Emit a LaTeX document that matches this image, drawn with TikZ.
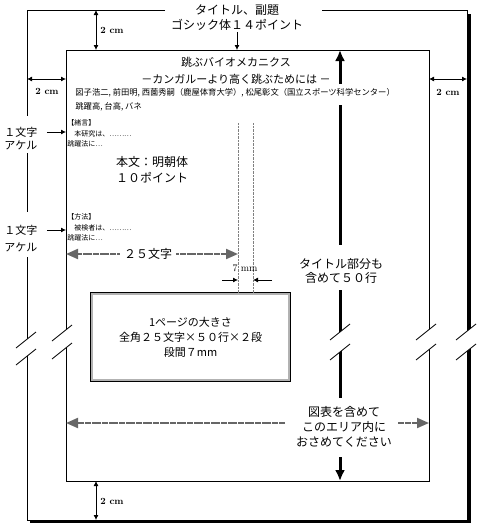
\documentclass[tikz,border=0pt]{standalone}
\usepackage{fontspec}
\newfontfamily\jpfont{Noto Sans CJK JP}
\usetikzlibrary{arrows.meta}
\newcommand\brkmark[3]{%
  \fill[white] (#1-10,#2+8) -- (#1+10,#2-8) -- (#1+10,#3-8) -- (#1-10,#3+8) -- cycle;
  \draw[line width=0.8pt] (#1-10,#2+8) -- (#1+10,#2-8) (#1-10,#3+8) -- (#1+10,#3-8);}

\begin{document}
\begin{tikzpicture}[x=1pt,y=-1pt,line width=0.8pt,
  jbig/.style={font=\jpfont\fontsize{12}{15}\selectfont,align=center,inner sep=1pt},
  jmid/.style={font=\jpfont\fontsize{11}{14}\selectfont,align=center,inner sep=1pt},
  jtiny/.style={font=\jpfont\fontsize{8.3}{10}\selectfont,anchor=west,align=left,inner sep=0pt},
  cmlbl/.style={font=\fontsize{9.5}{10}\selectfont\bfseries,inner sep=1pt},
  dimarr/.style={{Latex[length=5pt,width=5pt]}-{Latex[length=5pt,width=5pt]}},
  ptr/.style={-{Latex[length=5pt,width=5pt]}},
  bigarr/.style={line width=3pt},
  bigtip/.style={-{Latex[length=11pt,width=10pt]}},
  span/.style={line width=2pt,black!60,dash pattern=on 3pt off 0.4pt,
    -{Triangle[length=12pt,width=10pt,fill=black!60,color=black!60]}},
  colline/.style={gray,densely dotted,line width=0.4pt}]
\useasboundingbox (0,0) rectangle (487,530);

% frames
\coordinate (oNW) at (27,10);  \coordinate (oNE) at (467,10);
\coordinate (oSW) at (27,520); \coordinate (oSE) at (467,520);
\coordinate (iNW) at (66,50);  \coordinate (iSE) at (429,481);
\draw[line width=3pt] (469,14) -- (469,521.9) -- (30,521.9);
\draw (165,10) -- (oNW) -- (27,116);
\draw (27,153) -- (27,212);
\draw (27,257) -- (oSW) -- (oSE) -- (oNE) -- (322,10);
\draw (iNW) rectangle (iSE);

% title
\node[jbig] (ttl) at (237,17.5) {タイトル、副題\\ゴシック体１４ポイント};
\draw[ptr] (ttl.south) -- (ttl.south |- iNW);
\node[jmid,font=\jpfont\fontsize{11}{17}\selectfont] (head) at (236,70.5) {跳ぶバイオメカニクス\\－カンガルーより高く跳ぶためには －};
\node[jtiny] (auth) at (75,93) {図子浩二, 前田明, 西薗秀嗣（鹿屋体育大学）, 松尾彰文（国立スポーツ科学センター）};
\node[jtiny] (kw) at (75,107) {跳躍高, 台高, バネ};

% 2 cm margins
\draw[dimarr] (96,10) -- (96,50);
\node[cmlbl,anchor=west] (mT) at (99,30) {2 cm};
\draw[dimarr] (27,79) -- (66,79);
\node[cmlbl] (mL) at (47,91) {2 cm};
\draw[dimarr] (429,79) -- (467,79);
\node[cmlbl] (mR) at (448,92) {2 cm};
\draw[dimarr] (96,481) -- (96,520);
\node[cmlbl,anchor=west] (mB) at (99,501) {2 cm};

% body text
\node[jtiny,font=\jpfont\fontsize{7}{10.5}\selectfont] (intro) at (67,133.5) {【緒言】\\\hspace*{1em}本研究は、………\\跳躍法に…};
\node[jtiny,font=\jpfont\fontsize{7}{10.5}\selectfont] (meth) at (67,227.5) {【方法】\\\hspace*{1em}被検者は、………\\跳躍法に…};
\node[jbig,font=\jpfont\fontsize{12}{16}\selectfont] (body) at (152,170) {本文：明朝体\\１０ポイント};

\node[jmid] (ak1) at (21,132) {１文字};
\node[jmid] (ak1b) at (21,145) {アケル};
\draw[ptr] ([xshift=8pt]ak1.east) -- (ak1 -| iNW);
\node[jmid] (ak2) at (21,230) {１文字};
\node[jmid] (ak2b) at (21,247) {アケル};
\draw[ptr] ([xshift=8pt]ak2.east) -- (ak2 -| iNW);

% page box and columns
\node[draw,double=gray!60,double distance=2pt,line width=0.7pt,minimum width=197.6pt,minimum height=86.6pt,
  jmid,font=\jpfont\fontsize{11}{15}\selectfont] (pg) at (190.5,337) {1ページの大きさ\\全角２５文字×５０行×２段\\段間７mm};
\coordinate (colL) at (238,123); \coordinate (colR) at (253,123);
\draw[colline] (colL) -- (colL |- pg.north);
\draw[colline] (colR) -- (colR |- pg.north);
\node[font=\fontsize{10}{11}\selectfont] (sep) at (245,268) {7 mm};
\coordinate (gapY) at (0,280);
\draw[ptr] (222,280) -- (colL |- gapY);
\draw[ptr] (272,280) -- (colR |- gapY);

\node[jbig,inner xsep=4pt] (w25) at (148,254) {２５文字};
\draw[span] (w25.west) -- (w25.west -| iNW);
\draw[span] (w25.east) -- (w25.east -| colL);

% 50 lines
\node[jbig,font=\jpfont\fontsize{12}{14}\selectfont] (l50) at (341,271) {タイトル部分も\\含めて５０行};
\coordinate (aTop) at (340,50); \coordinate (aBot) at (340,481);
\draw[bigarr,bigtip] (340,84) -- (aTop);
\draw[bigarr] (340,105) -- (340,245);
\draw[bigarr] (340,290) -- (340,398);
\draw[bigarr,bigtip] (340,457) -- (aBot);

% area
\node[jbig] (area) at (344,427) {図表を含めて\\このエリア内に\\おさめてください};
\coordinate (hL) at (285,423); \coordinate (hR) at (398,423);
\draw[span] (hL) -- (hL -| iNW);
\draw[span] (hR) -- (hR -| iSE);

% breaks
\brkmark{26}{340}{357}
\brkmark{62}{333}{351}
\brkmark{340}{332}{352}
\brkmark{426}{332}{352}
\brkmark{466}{332}{352}
\end{tikzpicture}
\end{document}
